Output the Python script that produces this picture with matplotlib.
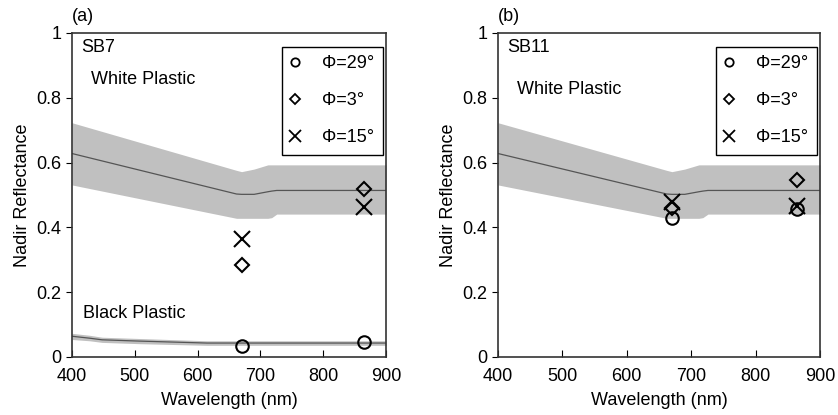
import matplotlib
matplotlib.use("Agg")
import matplotlib.pyplot as plt
from matplotlib.lines import Line2D

plt.rcParams.update({
    "font.family": ["Liberation Sans", "DejaVu Sans"],
    "font.size": 12,
    "axes.edgecolor": "#333333",
    "axes.linewidth": 1.2,
})

# white plastic reference band (same panel in a and b)
white_wl = [400, 662, 670, 690, 712, 718, 726, 900]
white_mid = [0.628, 0.503, 0.502, 0.502, 0.510, 0.512, 0.514, 0.514]
white_hi = [0.723, 0.576, 0.572, 0.580, 0.593, 0.593, 0.593, 0.593]
white_lo = [0.531, 0.428, 0.428, 0.428, 0.428, 0.430, 0.441, 0.441]

# black plastic reference band (panel a only)
black_wl = [400, 428, 448, 508, 615, 900]
black_mid = [0.064, 0.058, 0.053, 0.049, 0.043, 0.043]
black_hi = [0.073, 0.067, 0.061, 0.057, 0.050, 0.050]
black_lo = [0.054, 0.050, 0.045, 0.041, 0.036, 0.036]

# measured points
meas_wl = [670, 865]
sb7_phi29 = [0.035, 0.047]
sb7_phi3 = [0.284, 0.520]
sb7_phi15 = [0.363, 0.464]
sb11_phi29 = [0.428, 0.458]
sb11_phi3 = [0.459, 0.546]
sb11_phi15 = [0.479, 0.466]

phi_labels = ["Φ=29°", "Φ=3°", "Φ=15°"]

BAND = "#c0c0c0"
LINE = "#555555"


def panel(ax, tag, name, white_y, pts, black=False):
    ax.fill_between(white_wl, white_lo, white_hi, color=BAND, lw=0)
    ax.plot(white_wl, white_mid, color=LINE, lw=0.9)
    if black:
        ax.fill_between(black_wl, black_lo, black_hi, color=BAND, lw=0)
        ax.plot(black_wl, black_mid, color=LINE, lw=0.9)
        ax.text(418, 0.135, "Black Plastic", fontsize=13, va="center")

    p29, p3, p15 = pts
    ax.plot(meas_wl, p29, "o", ms=9, mfc="none", mec="black", mew=1.5)
    ax.plot(meas_wl, p3, "D", ms=7.5, mfc="none", mec="black", mew=1.5)
    ax.plot(meas_wl, p15, "x", ms=11, mec="black", mew=1.5)

    ax.text(415, 0.955, name, fontsize=13, va="center")
    ax.text(430, white_y, "White Plastic", fontsize=13, va="center")
    ax.text(0.0, 1.025, tag, transform=ax.transAxes, fontsize=13,
            ha="left", va="bottom")

    handles = [
        Line2D([], [], ls="none", marker="o", ms=6, mfc="none", mec="black", mew=1.3),
        Line2D([], [], ls="none", marker="D", ms=5.5, mfc="none", mec="black", mew=1.3),
        Line2D([], [], ls="none", marker="x", ms=8, mec="black", mew=1.3),
    ]
    leg = ax.legend(handles, phi_labels, loc="upper right", fontsize=13,
                    bbox_to_anchor=(0.99, 0.957), borderaxespad=0,
                    fancybox=False, edgecolor="black", framealpha=1,
                    handlelength=0.6, handletextpad=1.2, labelspacing=1.12,
                    borderpad=0.45)
    leg.get_frame().set_linewidth(1.0)

    ax.set_xlim(400, 900)
    ax.set_ylim(0, 1)
    ax.set_xticks([400, 500, 600, 700, 800, 900])
    ax.set_yticks([0, 0.2, 0.4, 0.6, 0.8, 1])
    ax.set_yticklabels(["0", "0.2", "0.4", "0.6", "0.8", "1"])
    ax.tick_params(axis="x", direction="in", length=5, labelsize=13, pad=8)
    ax.tick_params(axis="y", direction="out", length=4, labelsize=13)
    ax.set_xlabel("Wavelength (nm)", fontsize=13, labelpad=5)
    ax.set_ylabel("Nadir Reflectance", fontsize=13, labelpad=4)


fig = plt.figure(figsize=(8.38, 4.15), dpi=100)
ax1 = fig.add_axes([0.0859, 0.1398, 0.3747, 0.7807])
ax2 = fig.add_axes([0.5943, 0.1398, 0.3842, 0.7807])

panel(ax1, "(a)", "SB7", 0.855, (sb7_phi29, sb7_phi3, sb7_phi15), black=True)
panel(ax2, "(b)", "SB11", 0.825, (sb11_phi29, sb11_phi3, sb11_phi15))

fig.savefig("out.png", dpi=100)
